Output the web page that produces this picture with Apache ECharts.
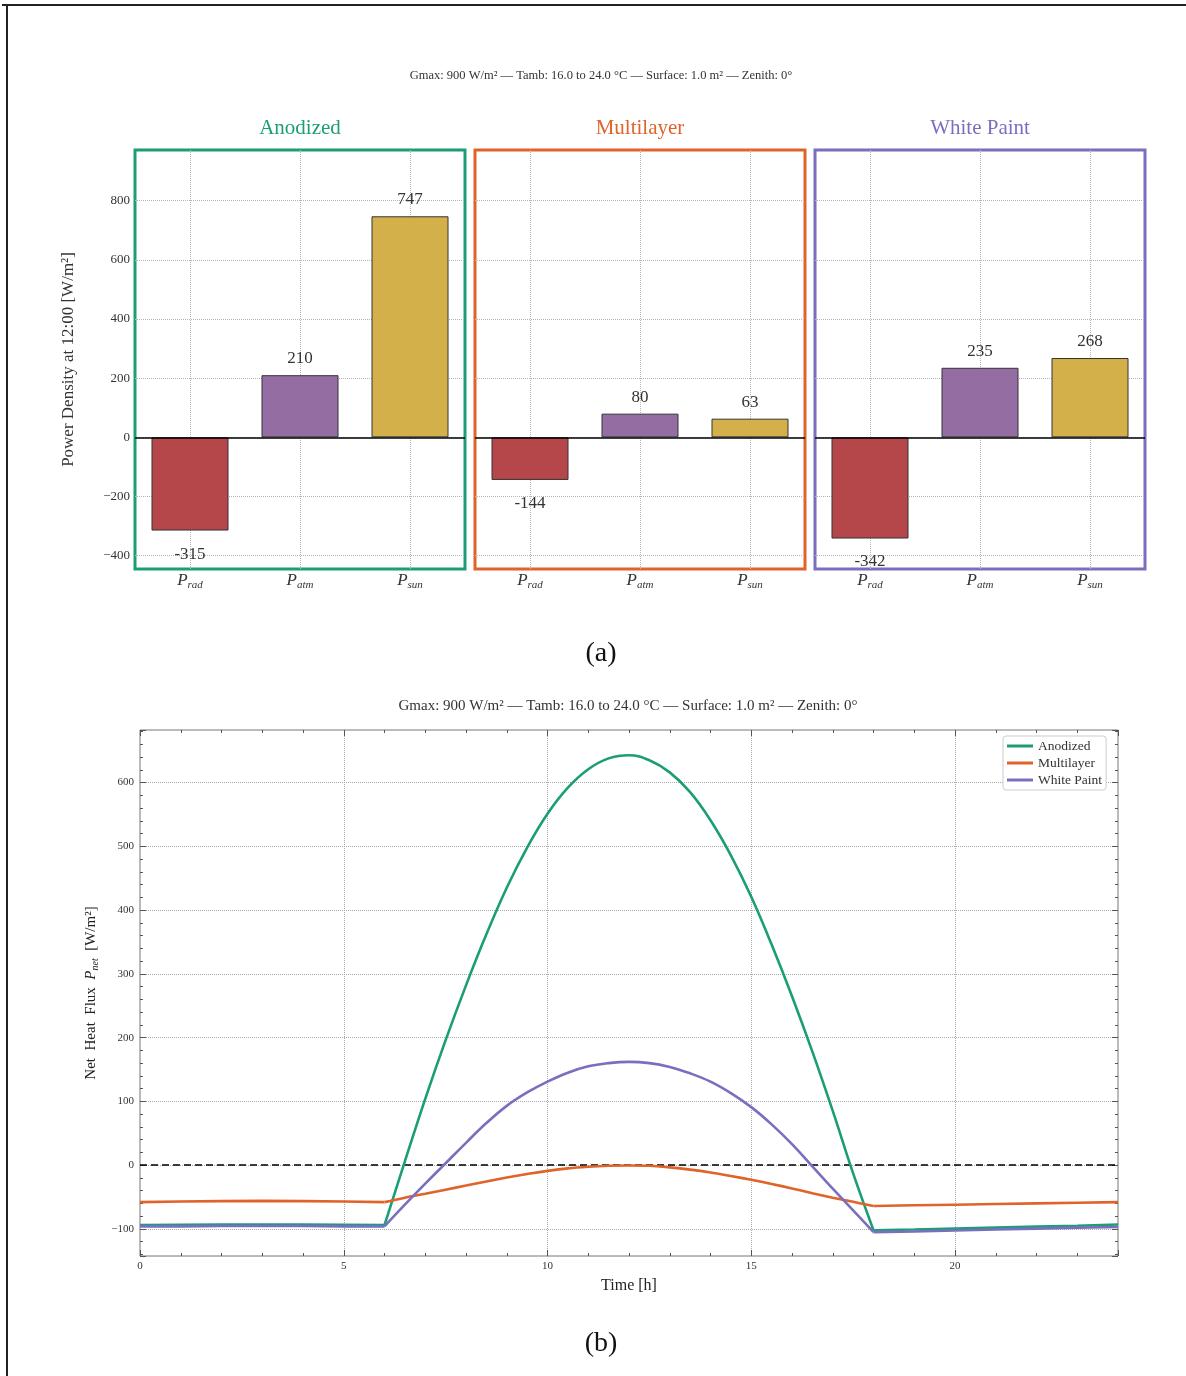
<!DOCTYPE html>
<html>
<head>
<meta charset="utf-8">
<script src="https://cdn.jsdelivr.net/npm/echarts@6/dist/echarts.min.js"></script>
<style>
html,body{margin:0;padding:0;background:#fff;}
#chart{width:1186px;height:1376px;}
</style>
</head>
<body>
<div id="chart"></div>
<script>
// ---------- data ----------
const components = ['P_rad', 'P_atm', 'P_sun'];
const componentSubs = ['rad', 'atm', 'sun'];
const materials = ['Anodized', 'Multilayer', 'White Paint'];
const anodizedBars = [-315, 210, 747];
const multilayerBars = [-144, 80, 63];
const whitePaintBars = [-342, 235, 268];

const hours = [0, 1, 2, 3, 4, 5, 6, 6.5, 7, 7.5, 8, 8.5, 9, 9.5, 10, 10.5, 11, 11.5, 12,
  12.5, 13, 13.5, 14, 14.5, 15, 15.5, 16, 16.5, 17, 17.5, 18, 19, 20, 21, 22, 23, 24];
const anodizedNet = [-94, -93.5, -93, -93, -93, -93.5, -94, 6, 104, 196, 282, 362, 435, 498, 551, 592, 621, 638, 643,
  635, 616, 585, 541, 486, 421, 346, 265, 178, 85, -13, -102, -101, -99.5, -98, -96.5, -95, -93];
const multilayerNet = [-58, -57, -56.5, -56, -56.5, -57, -58, -51, -45, -38.5, -32, -25.5, -19.5, -14, -9, -5, -2.5, -1, -0.5,
  -1, -3.5, -7, -11.5, -17, -23, -29.5, -36.5, -44, -51, -57.5, -64, -63, -62, -61, -60, -59, -58];
const whitePaintNet = [-96, -96, -95.5, -95.5, -95.5, -96, -96, -62, -29, 3, 35, 66, 93, 114, 131, 145, 155, 160, 162,
  160, 154, 144, 131, 113, 91, 64, 33, -2, -37, -71, -105, -104, -102.5, -101, -99.5, -98, -97];

const sunrise = 6, sunset = 18;
const subtitle = 'Gmax: 900 W/m\u00b2 \u2014 Tamb: 16.0 to 24.0 \u00b0C \u2014 Surface: 1.0 m\u00b2 \u2014 Zenith: 0\u00b0';

// ---------- styles ----------
const FONT = 'Liberation Serif';
const matColors = ['#1b9e77', '#e0632a', '#7a6fbf'];
const barColors = ['#b5474a', '#946ea3', '#d4b04a'];
const panelLefts = [135, 475, 815];
const panelWidth = 330;
const panelTop = 150, panelHeight = 419;
const gridLine = {show: true, showMinLine: false, showMaxLine: false,
  lineStyle: {color: '#b5b5b5', type: 'dotted', width: 1}};

const chart = echarts.init(document.getElementById('chart'), null, {renderer: 'canvas'});

const grids = [], xAxes = [], yAxes = [], series = [], graphics = [];
const extraX = [];
const barSets = [anodizedBars, multilayerBars, whitePaintBars];

for (let i = 0; i < 3; i++) {
  grids.push({left: panelLefts[i], top: panelTop, width: panelWidth, height: panelHeight,
    show: true, borderColor: matColors[i], borderWidth: 3, backgroundColor: 'transparent'});
  xAxes.push({
    type: 'category', gridIndex: i, data: components,
    axisLine: {show: false, onZero: false}, axisTick: {show: false}, splitLine: {show: false},
    axisLabel: {
      margin: 2,
      formatter: function (v, idx) { return '{p|P}{s|' + componentSubs[idx] + '}'; },
      rich: {
        p: {fontFamily: FONT, fontStyle: 'italic', fontSize: 17, color: '#333'},
        s: {fontFamily: FONT, fontStyle: 'italic', fontSize: 11, color: '#333', padding: [9, 0, 0, 0]}
      }
    }
  });
  // hidden value axis giving vertical grid lines at the bar centres
  extraX.push({
    type: 'value', gridIndex: i, min: -0.5, max: 2.5, splitNumber: 3, minInterval: 1, maxInterval: 1,
    axisLine: {show: false, onZero: false}, axisTick: {show: false}, axisLabel: {show: false},
    splitLine: gridLine
  });
  yAxes.push({
    type: 'value', gridIndex: i, min: -445, max: 971, splitNumber: 7, minInterval: 200, maxInterval: 200,
    axisLine: {show: false, onZero: false}, axisTick: {show: false},
    splitLine: gridLine,
    axisLabel: {show: i === 0, showMinLabel: false, showMaxLabel: false, fontFamily: FONT, fontSize: 13,
      color: '#333', margin: 5, formatter: v => String(v).replace('-', '\u2212')},
    name: i === 0 ? 'Power Density at 12:00 [W/m\u00b2]' : '',
    nameLocation: 'middle', nameGap: 58,
    nameTextStyle: {fontFamily: FONT, fontSize: 17, color: '#333'}
  });
  series.push({
    type: 'bar', xAxisIndex: i, yAxisIndex: i, barWidth: '70%', z: 3,
    data: barSets[i].map((v, k) => ({
      value: v,
      itemStyle: {color: barColors[k], borderColor: '#333', borderWidth: 1},
      label: {position: v >= 0 ? 'top' : 'bottom', distance: v >= 0 ? 8 : 15}
    })),
    label: {show: true, fontFamily: FONT, fontSize: 17, color: '#333',
      formatter: p => String(p.value)},
    markLine: {silent: true, symbol: 'none', label: {show: false},
      lineStyle: {color: '#000', type: 'solid', width: 1.6},
      data: [{yAxis: 0}]}
  });
  graphics.push({type: 'text', x: panelLefts[i] + panelWidth / 2, y: 128,
    style: {text: materials[i], fill: matColors[i], fontFamily: FONT, fontSize: 21,
      textAlign: 'center', textVerticalAlign: 'middle'}});
}

// ---------- bottom chart ----------
grids.push({left: 140, top: 730, width: 978, height: 526, show: true, borderColor: '#777', borderWidth: 1});
const tickStyle = {lineStyle: {color: '#555', width: 1}};
const bottomGrid = {show: true, showMinLine: false, showMaxLine: false,
  lineStyle: {color: '#aaa', type: 'dotted', width: 1}};
xAxes.push({
  type: 'value', gridIndex: 3, min: 0, max: 24, interval: 5,
  axisLine: {show: false, onZero: false},
  axisTick: {show: true, inside: true, length: 6, ...tickStyle},
  minorTick: {show: true, splitNumber: 5, length: 3, lineStyle: {color: '#555'}},
  splitLine: bottomGrid,
  axisLabel: {fontFamily: FONT, fontSize: 11, color: '#333', margin: 5, showMaxLabel: false},
  name: 'Time [h]', nameLocation: 'middle', nameGap: 22,
  nameTextStyle: {fontFamily: FONT, fontSize: 16, color: '#222'}
});
xAxes.push({
  type: 'value', gridIndex: 3, position: 'top', min: 0, max: 24, interval: 5,
  axisLine: {show: false, onZero: false}, axisLabel: {show: false}, splitLine: {show: false},
  axisTick: {show: true, inside: true, length: 6, ...tickStyle},
  minorTick: {show: true, splitNumber: 5, length: 3, lineStyle: {color: '#555'}}
});
yAxes.push({
  type: 'value', gridIndex: 3, min: -142.5, max: 682.5, splitNumber: 8, minInterval: 100, maxInterval: 100,
  axisLine: {show: false, onZero: false},
  axisTick: {show: true, inside: true, length: 6, ...tickStyle},
  minorTick: {show: true, splitNumber: 5, length: 3, lineStyle: {color: '#555'}},
  splitLine: bottomGrid,
  axisLabel: {fontFamily: FONT, fontSize: 11, color: '#333', margin: 6, showMinLabel: false, showMaxLabel: false,
    formatter: v => String(v).replace('-', '\u2212')},
  name: '{t|Net  Heat  Flux  }{p|P}{s|net}{t|  [W/m\u00b2]}', nameLocation: 'middle', nameGap: 38,
  nameTextStyle: {fontFamily: FONT, fontSize: 15, color: '#222',
    rich: {
      t: {fontFamily: FONT, fontSize: 15, color: '#222'},
      p: {fontFamily: FONT, fontStyle: 'italic', fontSize: 15, color: '#222'},
      s: {fontFamily: FONT, fontStyle: 'italic', fontSize: 10, color: '#222', padding: [8, 0, 0, 0]}
    }}
});
yAxes.push({
  type: 'value', gridIndex: 3, position: 'right', min: -142.5, max: 682.5, splitNumber: 8,
  minInterval: 100, maxInterval: 100,
  axisLine: {show: false, onZero: false}, axisLabel: {show: false}, splitLine: {show: false},
  axisTick: {show: true, inside: true, length: 6, ...tickStyle},
  minorTick: {show: true, splitNumber: 5, length: 3, lineStyle: {color: '#555'}}
});
// extra hidden value axes for the bar panels (indices 5,6,7)
extraX.forEach(a => xAxes.push(a));

const netSets = [anodizedNet, multilayerNet, whitePaintNet];
for (let i = 0; i < 3; i++) {
  const all = hours.map((h, k) => [h, netSets[i][k]]);
  const day = all.filter(p => p[0] >= sunrise && p[0] <= sunset);
  const night = [];
  all.forEach(p => { if (p[0] <= sunrise) night.push(p); });
  night.push(null);
  all.forEach(p => { if (p[0] >= sunset) night.push(p); });
  const common = {type: 'line', name: materials[i], xAxisIndex: 3, yAxisIndex: 3, showSymbol: false,
    symbol: 'none', z: 5 + i, color: matColors[i], lineStyle: {color: matColors[i], width: 2.6}};
  series.push(Object.assign({}, common, {data: night, connectNulls: false}));
  series.push(Object.assign({}, common, {data: day, smooth: 0.4}));
}
series.push({
  type: 'line', xAxisIndex: 3, yAxisIndex: 3, data: [], z: 9, silent: true,
  markLine: {silent: true, symbol: 'none', label: {show: false},
    lineStyle: {color: '#000', type: [7, 4], width: 1.6}, data: [{yAxis: 0}]}
});

graphics.push(
  {type: 'line', shape: {x1: 2, y1: 5, x2: 1186, y2: 5}, style: {stroke: '#222', lineWidth: 2}},
  {type: 'line', shape: {x1: 7, y1: 5, x2: 7, y2: 1376}, style: {stroke: '#222', lineWidth: 2}},
  {type: 'text', x: 601, y: 76, style: {text: subtitle, fill: '#333', fontFamily: FONT, fontSize: 12.5,
    textAlign: 'center', textVerticalAlign: 'middle'}},
  {type: 'text', x: 628, y: 706, style: {text: subtitle, fill: '#333', fontFamily: FONT, fontSize: 15,
    textAlign: 'center', textVerticalAlign: 'middle'}},
  {type: 'text', x: 601, y: 654, style: {text: '(a)', fill: '#111', fontFamily: FONT, fontSize: 28,
    textAlign: 'center', textVerticalAlign: 'middle'}},
  {type: 'text', x: 601, y: 1344, style: {text: '(b)', fill: '#111', fontFamily: FONT, fontSize: 28,
    textAlign: 'center', textVerticalAlign: 'middle'}}
);

chart.setOption({
  animation: false,
  backgroundColor: '#fff',
  textStyle: {fontFamily: FONT},
  grid: grids,
  xAxis: xAxes,
  yAxis: yAxes,
  series: series,
  legend: {
    data: materials, orient: 'vertical', left: 1003, top: 736,
    backgroundColor: '#fff', borderColor: '#ccc', borderWidth: 1, borderRadius: 3,
    padding: [3, 4, 3, 4], itemGap: 3, itemWidth: 26, itemHeight: 3, icon: 'rect',
    textStyle: {fontFamily: FONT, fontSize: 13.5, color: '#333'}
  },
  graphic: graphics
});
</script>
</body>
</html>
